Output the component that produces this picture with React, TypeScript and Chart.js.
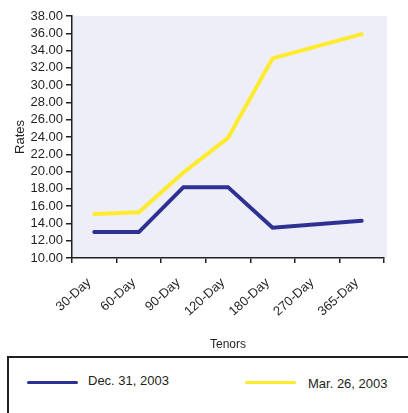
import { useEffect, useRef } from "react"
import { Chart, registerables } from "chart.js"

Chart.register(...registerables)

const tenors = ["30-Day", "60-Day", "90-Day", "120-Day", "180-Day", "270-Day", "365-Day"]
const dec2003 = [13.0, 13.0, 18.2, 18.2, 13.5, null, 14.3]
const mar2003 = [15.1, 15.3, 19.9, 23.9, 33.1, null, 35.9]
const seriesNames = ["Dec. 31, 2003", "Mar. 26, 2003"]

const FONT = "'Liberation Sans', Arial, sans-serif"
const INK = "#231f20"
const BLUE = "#2e3192"
const YELLOW = "#fdeb2c"

const plotBackground = {
  id: "plotBackground",
  beforeDraw(chart: Chart) {
    const { ctx, chartArea } = chart
    ctx.save()
    ctx.fillStyle = "#edeef8"
    ctx.fillRect(chartArea.left, chartArea.top, chartArea.right - chartArea.left + 3, chartArea.bottom - chartArea.top)
    ctx.restore()
  },
}

export default function App() {
  const chartRef = useRef<HTMLCanvasElement>(null)
  const chartInstance = useRef<Chart | null>(null)

  useEffect(() => {
    if (!chartRef.current) return
    if (chartInstance.current) chartInstance.current.destroy()
    const ctx = chartRef.current.getContext("2d")
    if (!ctx) return

    chartInstance.current = new Chart(ctx, {
      type: "line",
      data: {
        labels: tenors,
        datasets: [
          {
            label: seriesNames[0],
            data: dec2003,
            borderColor: BLUE,
            borderWidth: 4,
            pointRadius: 0,
            tension: 0,
            spanGaps: true,
            borderCapStyle: "round",
          },
          {
            label: seriesNames[1],
            data: mar2003,
            borderColor: YELLOW,
            borderWidth: 4,
            pointRadius: 0,
            tension: 0,
            spanGaps: true,
            borderCapStyle: "round",
          },
        ],
      },
      options: {
        responsive: true,
        maintainAspectRatio: false,
        animation: false,
        layout: { padding: { top: 16, right: 24, left: 0, bottom: 0 } },
        plugins: {
          legend: { display: false },
          tooltip: { enabled: false },
        },
        scales: {
          x: {
            offset: true,
            afterFit: (scale) => {
              scale.height = 97
            },
            grid: {
              offset: true,
              drawOnChartArea: false,
              drawTicks: true,
              tickLength: 5,
              tickColor: INK,
              lineWidth: 1.5,
            },
            border: { display: true, color: INK, width: 1.5 },
            ticks: {
              color: INK,
              font: { family: FONT, size: 13 },
              maxRotation: 42,
              minRotation: 42,
              autoSkip: false,
              padding: 12,
              labelOffset: -5,
            },
            title: {
              display: true,
              text: "Tenors",
              color: INK,
              font: { family: FONT, size: 12 },
              padding: { top: 0, bottom: 3 },
            },
          },
          y: {
            min: 10,
            max: 38,
            afterFit: (scale) => {
              scale.width = 72
            },
            grid: {
              drawOnChartArea: false,
              drawTicks: true,
              tickLength: 6,
              tickColor: INK,
              lineWidth: 1.5,
            },
            border: { display: true, color: INK, width: 1.5 },
            ticks: {
              stepSize: 2,
              autoSkip: false,
              color: INK,
              padding: 3,
              font: { family: FONT, size: 13 },
              callback: (v) => Number(v).toFixed(2),
            },
            title: {
              display: true,
              text: "Rates",
              color: INK,
              font: { family: FONT, size: 13 },
              padding: { top: 13, bottom: 0 },
            },
          },
        },
      },
      plugins: [plotBackground],
    })

    return () => {
      if (chartInstance.current) {
        chartInstance.current.destroy()
        chartInstance.current = null
      }
    }
  }, [])

  const legendText = { position: "absolute" as const, fontFamily: FONT, fontSize: 13, color: INK, lineHeight: "15px" }

  return (
    <div style={{ position: "fixed", left: 0, top: 0, width: 408, height: 413, background: "#fff", overflow: "hidden" }}>
      <div style={{ position: "absolute", left: 0, top: 0, width: 408, height: 355 }}>
        <canvas ref={chartRef} />
      </div>
      <div
        style={{
          position: "absolute",
          left: 7,
          top: 356,
          width: 440,
          height: 100,
          border: `2px solid ${INK}`,
          boxSizing: "border-box",
        }}
      />
      <div style={{ position: "absolute", left: 27, top: 381, width: 51, height: 3, borderRadius: 2, background: BLUE }} />
      <div style={{ ...legendText, left: 88, top: 373 }}>{seriesNames[0]}</div>
      <div style={{ position: "absolute", left: 245, top: 381, width: 51, height: 3, borderRadius: 2, background: YELLOW }} />
      <div style={{ ...legendText, left: 308, top: 376 }}>{seriesNames[1]}</div>
    </div>
  )
}
